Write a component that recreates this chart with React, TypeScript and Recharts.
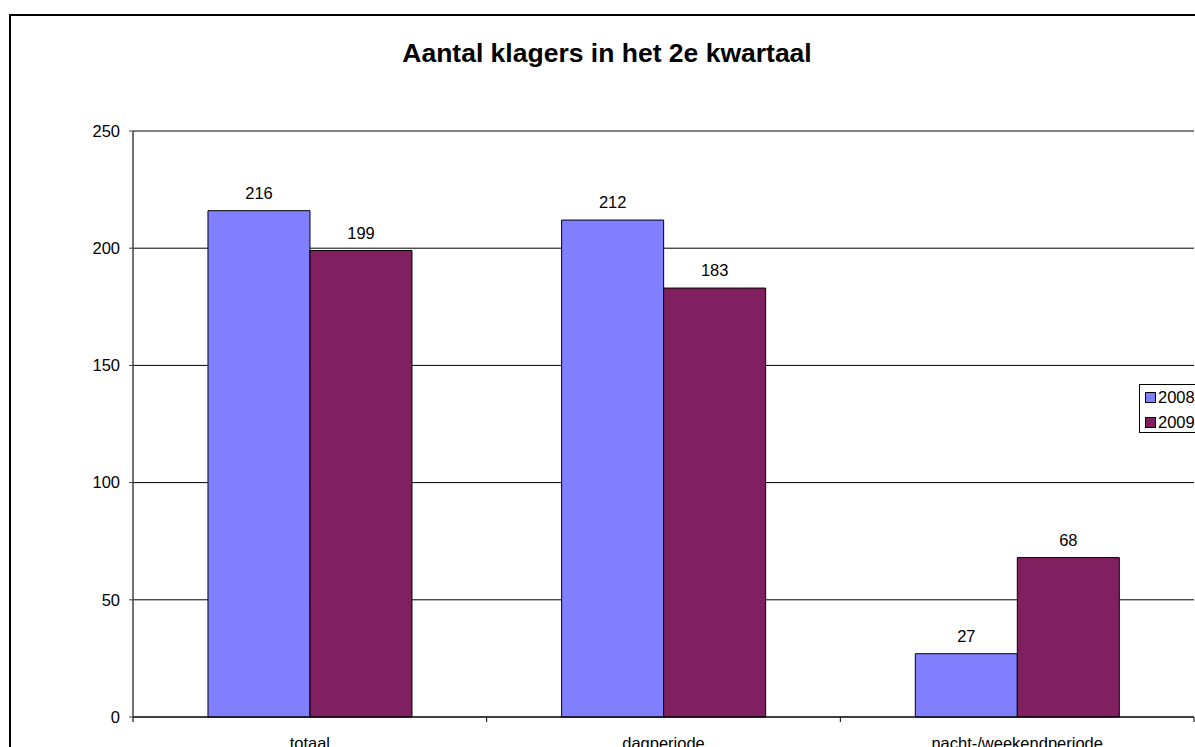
import React from "react";
import {
  BarChart,
  Bar,
  XAxis,
  YAxis,
  CartesianGrid,
  LabelList,
  ReferenceLine,
} from "recharts";

const categories = ["totaal", "dagperiode", "nacht-/weekendperiode"];
const series2008 = [216, 212, 27];
const series2009 = [199, 183, 68];
const yTicks = [0, 50, 100, 150, 200, 250];
const seriesNames = ["2008", "2009"];
const title = "Aantal klagers in het 2e kwartaal";

const data = categories.map((c, i) => ({
  name: c,
  v2008: series2008[i],
  v2009: series2009[i],
}));

const FONT = "'Liberation Sans', Arial, Helvetica, sans-serif";
const CHART_W = 1190;
const CHART_H = 745;
const MARGIN = { top: 115, right: 7, left: 62, bottom: 4 };
const YAXIS_W = 60;
const PLOT_W = CHART_W - MARGIN.left - MARGIN.right - YAXIS_W;
const COLORS = ["#8080FF", "#802060"];

const XTick = (props: any) => {
  const { x, y, payload, index } = props;
  const bw = PLOT_W / categories.length;
  return (
    <g>
      <line x1={x + bw / 2} y1={y} x2={x + bw / 2} y2={y + 5} stroke="#000" />
      {index === 0 && (
        <line x1={x - bw / 2} y1={y} x2={x - bw / 2} y2={y + 5} stroke="#404040" strokeWidth={1.5} />
      )}
      <text
        x={x}
        y={y + 32}
        textAnchor="middle"
        fontSize={16.5}
        fontFamily={FONT}
        fill="#000"
      >
        {payload.value}
      </text>
    </g>
  );
};

const LegendBox = () => (
  <div
    style={{
      position: "absolute",
      left: 1128,
      top: 368,
      width: 70,
      height: 49,
      border: "1px solid #000",
      background: "#fff",
      fontFamily: FONT,
      fontSize: 16.5,
      color: "#000",
      boxSizing: "border-box",
    }}
  >
    {seriesNames.map((n, i) => (
      <div
        key={n}
        style={{
          position: "absolute",
          left: 5,
          top: 2 + i * 25,
          height: 20,
          display: "flex",
          alignItems: "center",
          whiteSpace: "nowrap",
        }}
      >
        <span
          style={{
            display: "inline-block",
            width: 9,
            height: 9,
            background: COLORS[i],
            border: "1px solid #000",
            marginRight: 2,
          }}
        />
        <span>{n}</span>
      </div>
    ))}
  </div>
);

export default function App() {
  return (
    <div
      style={{
        position: "fixed",
        left: 0,
        top: 0,
        width: 1195,
        height: 747,
        overflow: "hidden",
        background: "#fff",
      }}
    >
      <div
        style={{
          position: "absolute",
          left: 9,
          top: 14,
          width: 1200,
          height: 760,
          border: "2px solid #000",
          background: "#fff",
        }}
      >
        <div
          style={{
            position: "absolute",
            left: 0,
            top: 22,
            width: 1192,
            textAlign: "center",
            fontFamily: FONT,
            fontWeight: "bold",
            fontSize: 26.5,
            lineHeight: "30px",
            color: "#000",
          }}
        >
          {title}
        </div>
        <div style={{ position: "absolute", left: 0, top: 0 }}>
          <BarChart
            width={CHART_W}
            height={CHART_H}
            data={data}
            margin={MARGIN}
            barCategoryGap="21.2%"
            barGap={0}
          >
            <CartesianGrid vertical={false} stroke="#000" strokeDasharray="" />
            <ReferenceLine y={250} stroke="#808080" strokeWidth={1.5} />
            <XAxis
              dataKey="name"
              tick={<XTick />}
              tickLine={false}
              tickSize={0}
              tickMargin={0}
              height={40}
              axisLine={{ stroke: "#000" }}
              interval={0}
            />
            <YAxis
              domain={[0, 250]}
              ticks={yTicks}
              width={YAXIS_W}
              tickSize={4}
              tickMargin={9}
              axisLine={{ stroke: "#404040", strokeWidth: 1.5 }}
              tickLine={{ stroke: "#404040" }}
              tick={{ fontSize: 16.5, fontFamily: FONT, fill: "#000" }}
              interval={0}
            />
            <YAxis
              yAxisId="r"
              orientation="right"
              domain={[0, 250]}
              width={0}
              tick={false}
              tickLine={false}
              axisLine={{ stroke: "#808080", strokeWidth: 1.5 }}
            />
            <Bar
              dataKey="v2008"
              name={seriesNames[0]}
              fill={COLORS[0]}
              stroke="#000"
              strokeWidth={1}
              isAnimationActive={false}
            >
              <LabelList
                dataKey="v2008"
                position="top"
                offset={12}
                fontSize={16.5}
                fontFamily={FONT}
                fill="#000"
              />
            </Bar>
            <Bar
              dataKey="v2009"
              name={seriesNames[1]}
              fill={COLORS[1]}
              stroke="#000"
              strokeWidth={1}
              isAnimationActive={false}
            >
              <LabelList
                dataKey="v2009"
                position="top"
                offset={12}
                fontSize={16.5}
                fontFamily={FONT}
                fill="#000"
              />
            </Bar>
          </BarChart>
        </div>
        <LegendBox />
      </div>
    </div>
  );
}
